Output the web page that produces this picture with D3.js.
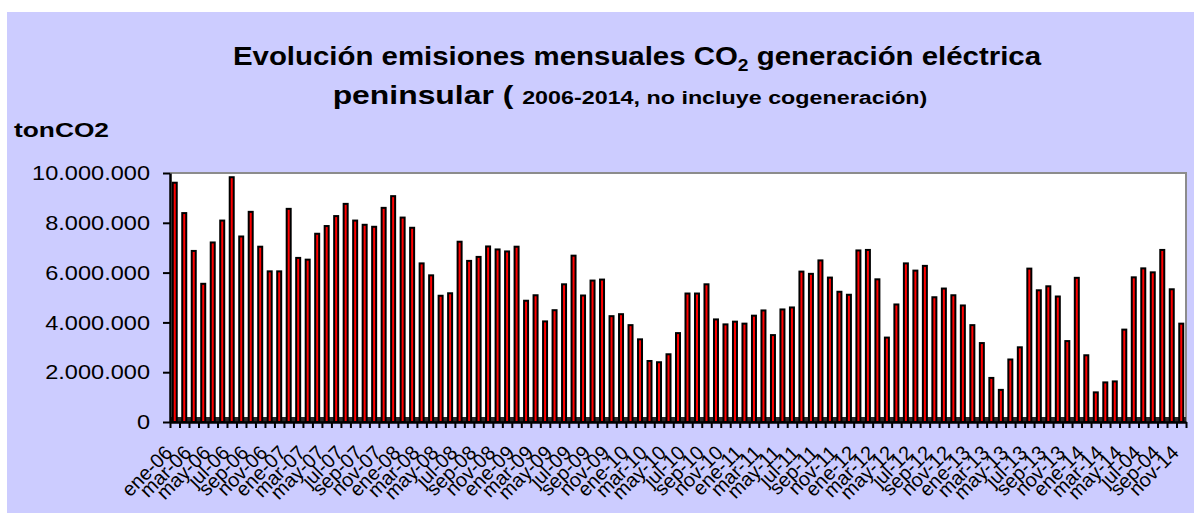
<!doctype html>
<html>
<head>
<script src="https://d3js.org/d3.v7.min.js"></script>
<style>
  body { margin: 0; background: #fff; }
  svg { display: block; font-family: "Liberation Sans", Arial, sans-serif; }
</style>
</head>
<body>
<script>
// monthly CO2 emissions, millions of tonnes (ene..dic)
var emis2006 = [9.61, 8.39, 6.87, 5.55, 7.21, 8.09, 9.83, 7.45, 8.44, 7.04, 6.05, 6.05];
var emis2007 = [8.56, 6.59, 6.52, 7.56, 7.87, 8.27, 8.76, 8.09, 7.92, 7.84, 8.60, 9.07];
var emis2008 = [8.21, 7.80, 6.37, 5.89, 5.07, 5.17, 7.24, 6.47, 6.63, 7.05, 6.93, 6.85];
var emis2009 = [7.04, 4.87, 5.09, 4.04, 4.49, 5.53, 6.68, 5.08, 5.68, 5.72, 4.25, 4.33];
var emis2010 = [3.89, 3.32, 2.45, 2.40, 2.72, 3.57, 5.16, 5.16, 5.53, 4.12, 3.92, 4.03];
var emis2011 = [3.95, 4.27, 4.48, 3.49, 4.52, 4.60, 6.04, 5.95, 6.49, 5.80, 5.23, 5.11];
var emis2012 = [6.89, 6.91, 5.73, 3.39, 4.72, 6.37, 6.08, 6.27, 5.01, 5.36, 5.09, 4.68];
var emis2013 = [3.89, 3.17, 1.77, 1.29, 2.51, 3.00, 6.16, 5.29, 5.45, 5.04, 3.25, 5.79];
var emis2014 = [2.68, 1.19, 1.59, 1.63, 3.71, 5.81, 6.17, 6.01, 6.91, 5.33, 3.95];

var years = ["06", "07", "08", "09", "10", "11", "12", "13", "14"];
var monthNames = ["ene", "feb", "mar", "abr", "may", "jun", "jul", "ago", "sep", "oct", "nov", "dic"];

// labels as printed under the axis (every second month)
var tickLabels = [
  "ene-06", "mar-06", "may-06", "jul-06", "sep-06", "nov-06",
  "ene-07", "mar-07", "may-07", "jul-07", "sep-07", "nov-07",
  "ene-08", "mar-08", "may-08", "jul-08", "sep-08", "nov-08",
  "ene-09", "mar-09", "may-09", "jul-09", "sep-09", "nov-09",
  "ene-10", "mar-10", "may-10", "jul-10", "sep-10", "nov-10",
  "ene-11", "mar-11", "may-11", "jul-11", "sep-11", "nov-11",
  "ene-12", "mar-12", "may-12", "jul-12", "sep-12", "nov-12",
  "ene-13", "mar-13", "may-13", "jul-13", "sep-13", "nov-13",
  "ene-14", "mar-14", "may-14", "jul-04", "sep-04", "nov-14"
];
var yTicks = [0, 2000000, 4000000, 6000000, 8000000, 10000000];

var W = 1194, H = 513;
var plot = {left: 170, right: 1186, top: 173, bottom: 422};

// flatten into one monthly series
var data = [];
[emis2006, emis2007, emis2008, emis2009, emis2010, emis2011, emis2012, emis2013, emis2014]
  .forEach(function (arr, yi) {
    arr.forEach(function (v, mi) {
      data.push({key: monthNames[mi] + "-" + years[yi], value: v * 1e6});
    });
  });

var svg = d3.select("body").append("svg")
  .attr("width", W)
  .attr("height", H);

// lavender chart area
svg.append("rect")
  .attr("x", 7).attr("y", 12)
  .attr("width", W - 7).attr("height", H - 12)
  .attr("fill", "#ccccff");

var xScale = d3.scaleBand()
  .domain(data.map(d => d.key))
  .range([plot.left, plot.right]);

var xEdge = d3.scaleLinear()
  .domain([0, data.length])
  .range([plot.left, plot.right]);

var yScale = d3.scaleLinear()
  .domain([0, 10000000])
  .range([plot.bottom, plot.top]);

// plot background + grey frame top/right
svg.append("rect")
  .attr("x", plot.left).attr("y", plot.top)
  .attr("width", plot.right - plot.left).attr("height", plot.bottom - plot.top)
  .attr("fill", "#fff");
svg.append("path")
  .attr("d", `M${plot.left},${plot.top}H${plot.right}V${plot.bottom}`)
  .attr("fill", "none")
  .attr("stroke", "#8c8c8c")
  .attr("stroke-width", 2);

// dark floor strip
svg.append("rect")
  .attr("x", plot.left).attr("y", plot.bottom - 5)
  .attr("width", plot.right - plot.left).attr("height", 5)
  .attr("fill", "#2b2b2b");

// bars
svg.append("g")
  .selectAll("rect")
  .data(data)
  .join("rect")
    .attr("x", d => xScale(d.key) + xScale.bandwidth() / 2 - 2)
    .attr("width", 4)
    .attr("y", d => yScale(d.value))
    .attr("height", d => plot.bottom - yScale(d.value))
    .attr("fill", "#ff0000")
    .attr("stroke", "#000")
    .attr("stroke-width", 2);

// y axis
var esLocale = d3.formatLocale({decimal: ",", thousands: ".", grouping: [3], currency: ["", " €"]});
var y_axis = d3.axisLeft(yScale)
  .tickValues(yTicks)
  .tickSize(7)
  .tickSizeOuter(0)
  .tickFormat(esLocale.format(","));

var gy = svg.append("g")
  .attr("transform", `translate(${plot.left},0)`)
  .call(y_axis);
gy.select(".domain").attr("stroke", "#000").attr("stroke-width", 2.5);
gy.selectAll(".tick line").attr("stroke", "#000").attr("stroke-width", 2);
var yText = gy.selectAll(".tick text")
  .attr("font-family", "Liberation Sans, Arial, sans-serif")
  .attr("font-size", 21)
  .attr("fill", "#000")
  .attr("x", 0);
// widest label "10.000.000" is ~118px wide in the original
var yMax = d3.max(yText.nodes(), n => n.getComputedTextLength());
yText.attr("transform", `translate(-20,0) scale(${118 / yMax},1)`);

// x axis: ticks on band edges
var x_axis = d3.axisBottom(xEdge)
  .tickValues(d3.range(0, data.length + 1))
  .tickSize(6)
  .tickSizeOuter(0)
  .tickFormat("");
var gx = svg.append("g")
  .attr("transform", `translate(0,${plot.bottom})`)
  .call(x_axis);
gx.select(".domain").attr("stroke", "#000").attr("stroke-width", 2.5);
gx.selectAll(".tick line").attr("stroke", "#000").attr("stroke-width", 2);

// x labels: every second month, rotated
var labelKeys = data.filter((d, i) => i % 2 === 0).map(d => d.key);
var xl_axis = d3.axisBottom(xScale)
  .tickValues(labelKeys)
  .tickSize(0)
  .tickFormat((d, i) => tickLabels[i]);
var gxl = svg.append("g")
  .attr("transform", `translate(0,${plot.bottom})`)
  .call(xl_axis);
gxl.select(".domain").remove();
var xText = gxl.selectAll(".tick text")
  .attr("font-family", "Liberation Sans, Arial, sans-serif")
  .attr("font-size", 20)
  .attr("fill", "#000")
  .attr("text-anchor", "end")
  .attr("x", 0).attr("y", 0)
  .attr("dy", "0.35em");
// size so that "ene-06" runs ~62px along its baseline
var firstLen = xText.node().getComputedTextLength();
xText.attr("font-size", 20 * 62 / firstLen)
  .attr("transform", "translate(-6,27) rotate(-45)");

// stretch a text horizontally to a target width (the original is stretched)
function stretch(sel, x0, width) {
  var w = sel.node().getBBox().width;
  sel.attr("transform", `translate(${x0},0) scale(${width / w},1)`);
}

// title
var t1 = svg.append("text")
  .attr("x", 0).attr("y", 65)
  .attr("text-anchor", "middle")
  .attr("font-weight", "bold")
  .attr("font-size", 26)
  .attr("fill", "#000");
t1.append("tspan").text("Evolución emisiones mensuales CO");
t1.append("tspan").attr("font-size", 17).attr("dy", 6).text("2");
t1.append("tspan").attr("dy", -6).text(" generación eléctrica");
stretch(t1, 637, 809);

var t2 = svg.append("text")
  .attr("x", 0).attr("y", 104)
  .attr("text-anchor", "middle")
  .attr("font-weight", "bold")
  .attr("font-size", 26)
  .attr("fill", "#000");
t2.append("tspan").text("peninsular ( ");
t2.append("tspan").attr("font-size", 19).text("2006-2014, no incluye cogeneración)");
stretch(t2, 630, 595);

// unit label
var unit = svg.append("text")
  .attr("x", 0).attr("y", 137)
  .attr("font-weight", "bold")
  .attr("font-size", 21)
  .attr("fill", "#000")
  .text("tonCO2");
stretch(unit, 14, 95);
</script>
</body>
</html>
